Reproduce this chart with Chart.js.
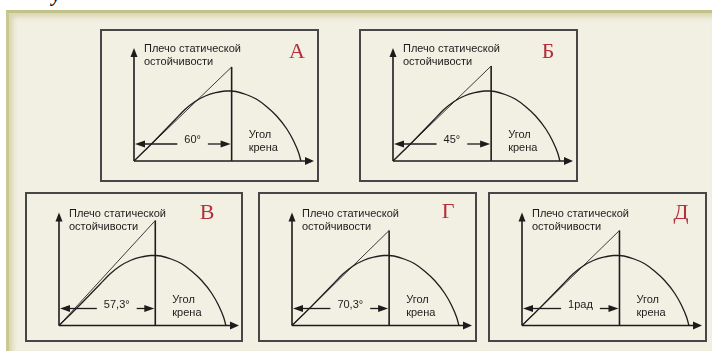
<!DOCTYPE html>
<html>
<head>
<meta charset="utf-8">
<script src="https://cdn.jsdelivr.net/npm/chart.js@4"></script>
<style>
    html, body { margin: 0; padding: 0; width: 712px; height: 351px; overflow: hidden; background: #fff; position: relative; }
    .frame {
        position: absolute; left: 6px; top: 10px; width: 706px; height: 341px; box-sizing: border-box;
        background: #f2efe3;
        border-top: 3px solid #c3c28b; border-left: 3px solid #c9c893;
        box-shadow: inset 4px 4px 5px #d9d7ae;
    }
    .box { position: absolute; border: 2px solid #474747; box-sizing: border-box; }
    .box canvas { position: absolute; left: -2px; top: -2px; }
    .mark { position: absolute; left: 52px; top: -17px; font: bold italic 20px "Liberation Serif", serif; color: #111; }
</style>
</head>
<body>
<div class="frame"></div>
<div class="mark">у</div>
<div id="panels"></div>
<script>
// Кривая плеча статической остойчивости: угол крена (град) -> плечо
const heelAngles = [0, 6, 12, 18, 24, 30, 36, 42, 48, 54, 57, 60, 66, 72, 78, 84, 90, 94, 97, 98.3];
const armValues  = [0, 0.10, 0.20, 0.305, 0.41, 0.515, 0.595, 0.65, 0.683, 0.70, 0.70, 0.695, 0.665, 0.62, 0.545, 0.45, 0.32, 0.20, 0.08, 0];

// Варианты ответа
const panelLetters = ['А', 'Б', 'В', 'Г', 'Д'];
const angleLabels  = ['60°', '45°', '57,3°', '70,3°', '1рад'];
const verticalX    = [57.5, 57.8, 56.7, 57.2, 57.4];   // где стоит вертикаль
const tangentTop   = [0.94, 0.95, 1.05, 0.95, 0.95];   // куда доходит касательная

// Пределы осей
const X_MAX = 106;
const Y_MAX = 1.13;
const ARROW_Y = 0.17;

// Раскладка рамок на странице
const LAYOUT = [
    { left: 100, top: 29,  w: 219, h: 153, axisY: 132,   letter: [197, 23] },
    { left: 359, top: 29,  w: 219, h: 153, axisY: 132,   letter: [189, 23] },
    { left: 25,  top: 192, w: 218, h: 150, axisY: 133.5, letter: [182, 21] },
    { left: 258, top: 192, w: 219, h: 150, axisY: 133.5, letter: [190, 20] },
    { left: 488, top: 192, w: 219, h: 150, axisY: 133.5, letter: [193, 21] }
];

const INK = '#1c1c1c';
const FONT = '11px "Liberation Sans", Arial, sans-serif';

function arrowHead(ctx, tipX, tipY, dir, len, half) {
    // dir: 'r', 'l', 'u'
    ctx.beginPath();
    ctx.moveTo(tipX, tipY);
    if (dir === 'r') { ctx.lineTo(tipX - len, tipY - half); ctx.lineTo(tipX - len, tipY + half); }
    if (dir === 'l') { ctx.lineTo(tipX + len, tipY - half); ctx.lineTo(tipX + len, tipY + half); }
    if (dir === 'u') { ctx.lineTo(tipX - half, tipY + len); ctx.lineTo(tipX + half, tipY + len); }
    ctx.closePath();
    ctx.fill();
}

function seg(ctx, x1, y1, x2, y2) {
    ctx.beginPath();
    ctx.moveTo(x1, y1);
    ctx.lineTo(x2, y2);
    ctx.stroke();
}

// Оси, стрелки и подписи
const stabilityPlugin = {
    id: 'stability',
    afterDatasetsDraw(chart, args, opts) {
        const { ctx } = chart;
        const xs = chart.scales.x, ys = chart.scales.y;
        const x0 = xs.getPixelForValue(0), y0 = ys.getPixelForValue(0);
        const xEnd = xs.getPixelForValue(X_MAX), yEnd = ys.getPixelForValue(Y_MAX);
        const xv = xs.getPixelForValue(opts.vertical);

        ctx.save();
        ctx.strokeStyle = INK;
        ctx.fillStyle = INK;
        ctx.lineWidth = 1.6;

        // оси
        seg(ctx, x0, y0, xEnd - 6, y0);
        arrowHead(ctx, xEnd, y0, 'r', 9, 4);
        seg(ctx, x0, y0, x0, yEnd + 6);
        arrowHead(ctx, x0, yEnd, 'u', 9, 3.5);

        // двойная стрелка с углом
        const ay = ys.getPixelForValue(ARROW_Y);
        ctx.font = FONT;
        const tw = ctx.measureText(opts.angle).width;
        const tx = x0 + (xv - x0) * 0.6;
        ctx.lineWidth = 1.3;
        seg(ctx, x0 + 8, ay, tx - tw / 2 - 7, ay);
        seg(ctx, tx + tw / 2 + 7, ay, xv - 8, ay);
        arrowHead(ctx, x0 + 1, ay, 'l', 10, 3.5);
        arrowHead(ctx, xv - 1, ay, 'r', 10, 3.5);

        ctx.textBaseline = 'middle';
        ctx.textAlign = 'center';
        ctx.fillText(opts.angle, tx, ay - 4);

        // подписи осей
        ctx.textAlign = 'left';
        ctx.fillText('Плечо статической', x0 + 10, y0 - 112);
        ctx.fillText('остойчивости', x0 + 10, y0 - 99);
        ctx.fillText('Угол', xv + 17, y0 - 26);
        ctx.fillText('крена', xv + 17, y0 - 13);

        // буква варианта
        ctx.fillStyle = '#b3303a';
        ctx.textAlign = 'center';
        ctx.font = '22px "Liberation Serif", "Times New Roman", serif';
        ctx.fillText(opts.letter, opts.letterPos[0], opts.letterPos[1]);
        ctx.restore();
    }
};

const curvePoints = heelAngles.map((a, i) => ({ x: a, y: armValues[i] }));
const holder = document.getElementById('panels');

LAYOUT.forEach((box, i) => {
    const div = document.createElement('div');
    div.className = 'box';
    Object.assign(div.style, { left: box.left + 'px', top: box.top + 'px', width: box.w + 'px', height: box.h + 'px' });
    const canvas = document.createElement('canvas');
    canvas.width = box.w;
    canvas.height = box.h;
    canvas.style.width = box.w + 'px';
    canvas.style.height = box.h + 'px';
    div.appendChild(canvas);
    holder.appendChild(div);

    new Chart(canvas, {
        type: 'scatter',
        data: {
            datasets: [
                {
                    data: curvePoints,
                    showLine: true,
                    borderColor: '#1e1e1e',
                    borderWidth: 1.3,
                    pointRadius: 0,
                    cubicInterpolationMode: 'monotone',
                    clip: false
                },
                {
                    data: [{ x: 0, y: 0 }, { x: verticalX[i], y: tangentTop[i] }],
                    showLine: true,
                    borderColor: '#3a3a3a',
                    borderWidth: 1,
                    pointRadius: 0,
                    clip: false
                },
                {
                    data: [{ x: verticalX[i], y: 0 }, { x: verticalX[i], y: tangentTop[i] }],
                    showLine: true,
                    borderColor: INK,
                    borderWidth: 1.6,
                    pointRadius: 0,
                    clip: false
                }
            ]
        },
        options: {
            responsive: false,
            animation: false,
            devicePixelRatio: 1,
            events: [],
            layout: {
                padding: { left: 34, right: box.w - 214, top: box.axisY - 113, bottom: box.h - box.axisY }
            },
            scales: {
                x: { type: 'linear', display: false, min: 0, max: X_MAX },
                y: { type: 'linear', display: false, min: 0, max: Y_MAX }
            },
            plugins: {
                legend: { display: false },
                tooltip: { enabled: false },
                stability: {
                    letter: panelLetters[i],
                    angle: angleLabels[i],
                    vertical: verticalX[i],
                    letterPos: box.letter
                }
            }
        },
        plugins: [stabilityPlugin]
    });
});
</script>
</body>
</html>
